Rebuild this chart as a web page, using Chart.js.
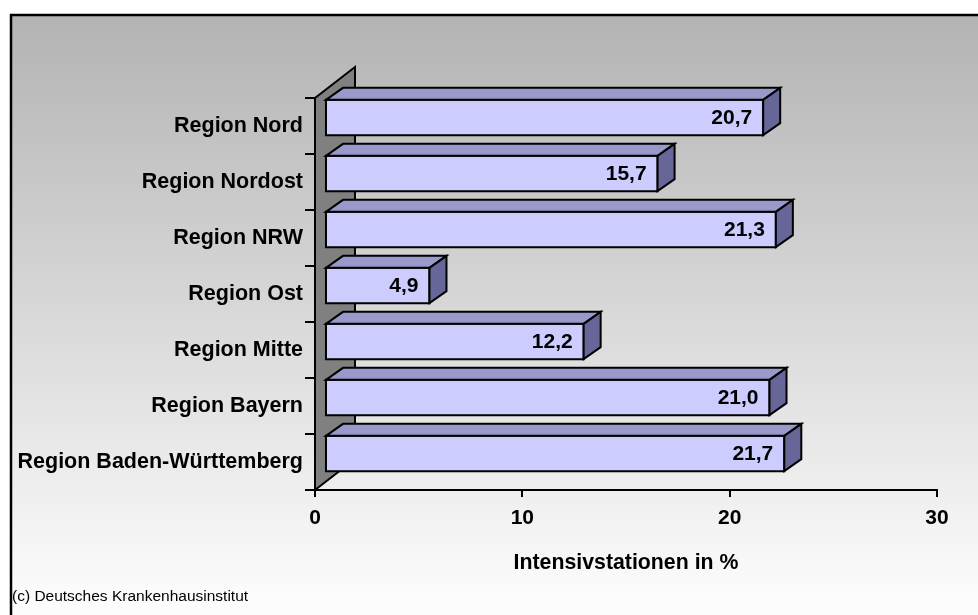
<!DOCTYPE html>
<html>
<head>
<meta charset="utf-8">
<title>Intensivstationen nach Region</title>
<script src="https://cdn.jsdelivr.net/npm/chart.js@4/dist/chart.umd.min.js"></script>
<style>
  html, body { margin: 0; padding: 0; background: #fff; }
  #wrap { width: 978px; height: 615px; }
</style>
</head>
<body>
<div id="wrap"><canvas id="statchart" width="978" height="615"></canvas></div>
<script>
// categories, top to bottom
var regions = ["Region Nord", "Region Nordost", "Region NRW", "Region Ost",
  "Region Mitte", "Region Bayern", "Region Baden-Württemberg"];
// share of intensive care units in %
var shares = [20.7, 15.7, 21.3, 4.9, 12.2, 21.0, 21.7];
var axisTicks = [0, 10, 20, 30];
var axisTitle = "Intensivstationen in %";
var sourceNote = "(c) Deutsches Krankenhausinstitut";

var FONT = "'Liberation Sans', Arial, Helvetica, sans-serif";
var wallDepth = { dx: 40, dy: -31 };   // side wall depth
var barShift = { dx: 0, dy: -8.5 };     // bars sit a bit behind the front edge
var barDepth = { dx: 17, dy: -12 };     // depth of each bar block

function fmt(v) {
  return v.toFixed(1).replace(".", ",");
}

// page background, frame and source note
var backgroundPlugin = {
  id: "background",
  beforeDraw: function (chart) {
    var ctx = chart.ctx;
    ctx.save();
    ctx.fillStyle = "#fff";
    ctx.fillRect(0, 0, chart.width, chart.height);
    var g = ctx.createLinearGradient(0, 16, 0, 600);
    g.addColorStop(0, "#b3b3b3");
    g.addColorStop(1, "#fcfcfc");
    ctx.fillStyle = g;
    ctx.fillRect(11, 15, chart.width, chart.height);
    ctx.strokeStyle = "#000";
    ctx.lineWidth = 2.5;
    ctx.beginPath();
    ctx.moveTo(11, chart.height + 5);
    ctx.lineTo(11, 15);
    ctx.lineTo(chart.width + 5, 15);
    ctx.stroke();
    ctx.restore();
  },
  afterDraw: function (chart) {
    var ctx = chart.ctx;
    ctx.save();
    ctx.fillStyle = "#000";
    ctx.font = "15.5px " + FONT;
    ctx.textAlign = "left";
    ctx.textBaseline = "middle";
    ctx.fillText(sourceNote, 12, 597);
    ctx.restore();
  }
};

// grey side wall behind the category axis
var wallPlugin = {
  id: "wall",
  beforeDatasetsDraw: function (chart) {
    var a = chart.chartArea, ctx = chart.ctx;
    ctx.save();
    ctx.beginPath();
    ctx.moveTo(a.left, a.top);
    ctx.lineTo(a.left + wallDepth.dx, a.top + wallDepth.dy);
    ctx.lineTo(a.left + wallDepth.dx, a.bottom + wallDepth.dy);
    ctx.lineTo(a.left, a.bottom);
    ctx.closePath();
    ctx.fillStyle = "#808080";
    ctx.fill();
    ctx.lineWidth = 2;
    ctx.strokeStyle = "#000";
    ctx.lineJoin = "miter";
    ctx.stroke();
    ctx.restore();
  }
};

// 3D blocks and value labels, drawn from the bar elements
var blockPlugin = {
  id: "blocks",
  afterDatasetsDraw: function (chart) {
    var ctx = chart.ctx;
    var meta = chart.getDatasetMeta(0);
    var data = chart.data.datasets[0].data;
    ctx.save();
    ctx.lineWidth = 2;
    ctx.strokeStyle = "#000";
    ctx.lineJoin = "miter";
    meta.data.forEach(function (bar, i) {
      var p = bar.getProps(["x", "y", "base", "height"], true);
      var l = p.base + barShift.dx, r = p.x + barShift.dx;
      var t = p.y - p.height / 2 + barShift.dy, b = p.y + p.height / 2 + barShift.dy;
      var dx = barDepth.dx, dy = barDepth.dy;
      // front
      ctx.fillStyle = "#ccccff";
      ctx.beginPath();
      ctx.rect(l, t, r - l, b - t);
      ctx.fill();
      ctx.stroke();
      // top
      ctx.fillStyle = "#9999cc";
      ctx.beginPath();
      ctx.moveTo(l, t);
      ctx.lineTo(l + dx, t + dy);
      ctx.lineTo(r + dx, t + dy);
      ctx.lineTo(r, t);
      ctx.closePath();
      ctx.fill();
      ctx.stroke();
      // side
      ctx.fillStyle = "#666699";
      ctx.beginPath();
      ctx.moveTo(r, t);
      ctx.lineTo(r + dx, t + dy);
      ctx.lineTo(r + dx, b + dy);
      ctx.lineTo(r, b);
      ctx.closePath();
      ctx.fill();
      ctx.stroke();
      // value
      ctx.fillStyle = "#000";
      ctx.font = "bold 21px " + FONT;
      ctx.textAlign = "right";
      ctx.textBaseline = "middle";
      ctx.fillText(fmt(data[i]), r - 11, (t + b) / 2 + 1);
    });
    ctx.restore();
  }
};

var ctx = document.getElementById("statchart").getContext("2d");
var StatChart = new Chart(ctx, {
  type: "bar",
  data: {
    labels: regions,
    datasets: [{
      label: axisTitle,
      data: shares,
      xAxisID: "x2",
      backgroundColor: "rgba(0,0,0,0)",
      borderWidth: 0,
      categoryPercentage: 1,
      barPercentage: 0.63
    }]
  },
  options: {
    indexAxis: "y",
    responsive: false,
    animation: false,
    events: [],
    layout: { padding: { left: 0, top: 98, right: 41, bottom: 0 } },
    plugins: {
      legend: { display: false },
      tooltip: { enabled: false }
    },
    scales: {
      x: {
        type: "linear",
        position: "bottom",
        min: axisTicks[0],
        max: axisTicks[axisTicks.length - 1],
        afterBuildTicks: function (scale) {
          scale.ticks = axisTicks.map(function (v) { return { value: v }; });
        },
        afterFit: function (scale) { scale.height = 125; },
        border: { display: true, color: "#000", width: 2 },
        grid: { drawOnChartArea: false, color: "#000", lineWidth: 2, tickLength: 7 },
        ticks: {
          color: "#000",
          padding: 9,
          font: { family: FONT, size: 21, weight: "bold" }
        },
        title: {
          display: true,
          text: axisTitle,
          color: "#000",
          padding: { top: 0, bottom: 39 },
          font: { family: FONT, size: 21.3, weight: "bold" }
        }
      },
      // bar plane sits behind the front axis, so its scale is slightly wider
      x2: {
        type: "linear",
        display: false,
        min: -0.52,
        max: 28.93
      },
      y: {
        type: "category",
        afterFit: function (scale) { scale.width = 315; },
        border: { display: false },
        grid: { offset: true, drawOnChartArea: false, color: "#000", lineWidth: 2, tickLength: 10 },
        ticks: {
          color: "#000",
          padding: 2,
          font: { family: FONT, size: 21.5, weight: "bold" }
        }
      }
    }
  },
  plugins: [backgroundPlugin, wallPlugin, blockPlugin]
});
</script>
</body>
</html>
